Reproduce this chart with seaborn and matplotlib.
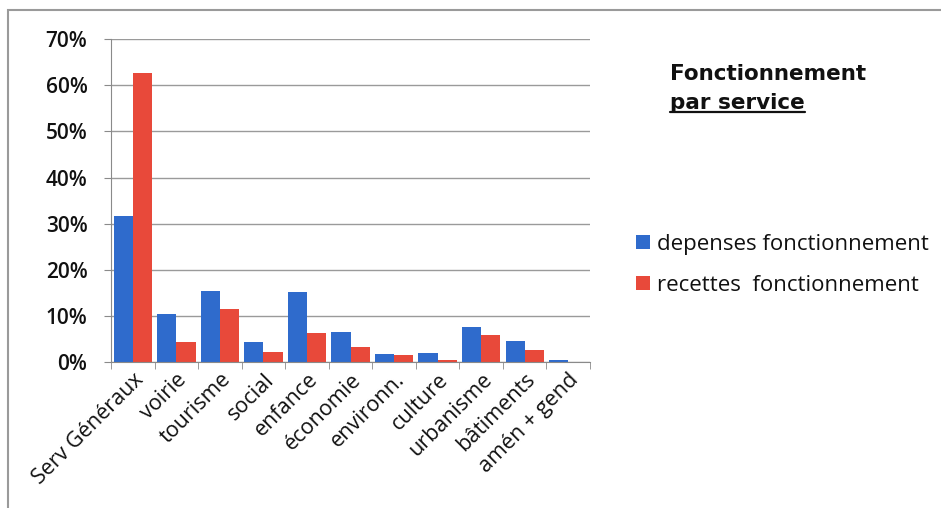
import matplotlib
matplotlib.use("Agg")
import matplotlib.pyplot as plt
import matplotlib.patches as patches
from matplotlib.ticker import PercentFormatter, FixedLocator
import pandas as pd
import seaborn as sns

services = ["Serv Généraux", "voirie", "tourisme", "social", "enfance", "économie",
            "environn.", "culture", "urbanisme", "bâtiments", "amén + gend"]
depenses = [0.316, 0.105, 0.155, 0.043, 0.153, 0.066, 0.018, 0.021, 0.077, 0.047, 0.005]
recettes = [0.626, 0.043, 0.115, 0.023, 0.064, 0.034, 0.015, 0.005, 0.058, 0.027, 0.001]
series_names = ["depenses fonctionnement", "recettes  fonctionnement"]
colors = ["#2f6bcc", "#e8493a"]

df = pd.DataFrame({
    "service": services * 2,
    "serie": [series_names[0]] * len(services) + [series_names[1]] * len(services),
    "part": depenses + recettes,
})

sns.set_style("white")
plt.rcParams["font.family"] = ["Open Sans", "DejaVu Sans"]

fig = plt.figure(figsize=(9.41, 5.08), dpi=100)
ax = fig.add_axes([0.118, 0.287, 0.509, 0.636])

sns.barplot(data=df, x="service", y="part", hue="serie", palette=colors,
            width=0.88, saturation=1, linewidth=0, ax=ax, legend=True)

ax.set_ylim(0, 0.7)
ax.set_xlim(-0.5, len(services) - 0.5)
ax.yaxis.set_major_formatter(PercentFormatter(1.0, decimals=0))
ax.set_yticks([i / 10 for i in range(8)])
ax.grid(axis="y", color="#9a9a9a", linewidth=1)
ax.set_axisbelow(True)
for side in ["top", "right"]:
    ax.spines[side].set_visible(False)
ax.spines["left"].set_color("#8a8a8a")
ax.spines["bottom"].set_color("#8a8a8a")

ax.set_xlabel("")
ax.set_ylabel("")
ax.tick_params(axis="y", left=True, length=5, color="#8a8a8a", labelsize=15, pad=12,
               labelcolor="#111111")
for lbl in ax.get_yticklabels():
    lbl.set_fontweight("semibold")
ax.tick_params(axis="x", which="major", length=0, labelsize=15.5, pad=5, labelcolor="#111111")
ax.xaxis.set_minor_locator(FixedLocator([i - 0.5 for i in range(len(services) + 1)]))
ax.tick_params(axis="x", which="minor", bottom=True, length=5, color="#8a8a8a")
ax.set_xticks(range(len(services)))
ax.set_xticklabels(services, rotation=45, ha="right", rotation_mode="anchor")

handles, labels = ax.get_legend_handles_labels()
ax.legend(handles, labels, loc="center left", bbox_to_anchor=(1.055, 0.30),
          frameon=False, fontsize=16, handlelength=0.6, handleheight=0.6,
          handletextpad=0.35, labelspacing=0.9, labelcolor="#111111")

title_font = dict(fontsize=15.5, fontweight="bold", color="#111111", family="DejaVu Sans")
fig.text(0.712, 0.843, "Fonctionnement", **title_font)
t2 = fig.text(0.712, 0.786, "par service", **title_font)

# underline the second line of the title
fig.canvas.draw()
bb = t2.get_window_extent().transformed(fig.transFigure.inverted())
fig.add_artist(plt.Line2D([bb.x0, bb.x1], [bb.y0 + 0.002, bb.y0 + 0.002],
                          color="#111111", linewidth=1.6))

fig.add_artist(patches.Rectangle((0.009, -0.01), 1.0, 0.99, transform=fig.transFigure,
                                 fill=False, edgecolor="#9a9a9a", linewidth=1.5))

fig.savefig("out.png", dpi=100)
